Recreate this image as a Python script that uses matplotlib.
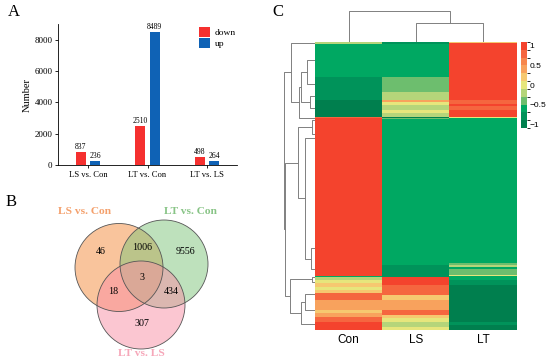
import numpy as np
import matplotlib
matplotlib.use('Agg')
import matplotlib.pyplot as plt
from matplotlib.colors import ListedColormap, BoundaryNorm
from matplotlib.patches import Circle

# ---- A : nombre de DEGs
groups = ['LS vs. Con', 'LT vs. Con', 'LT vs. LS']
down = [837, 2510, 498]
up = [236, 8489, 264]

# ---- B : venn
venn_names = ['LS vs. Con', 'LT vs. Con', 'LT vs. LS']
venn_regions = ['100', '110', '010', '111', '101', '011', '001']
venn_counts = [46, 1006, 9556, 3, 18, 434, 307]

# ---- C : heatmap (z-score par ligne), blocs de lignes
samples = ['Con', 'LS', 'LT']
row_counts = [1, 1, 33, 15, 8, 2, 2, 1, 1, 4, 3, 4, 1, 1, 144, 2, 2, 2, 6, 1,
              1, 3, 3, 2, 2, 3, 3, 2, 5, 10, 3, 2, 2, 1, 4, 3, 2, 3]
con_vals = [-0.2, -0.2, -0.6, -0.8, -0.8, -1, -1, -1, -1, -1, -1, -1, 0.8, 1, 1, 1, 1, 1, 1, 1,
            -0.6, -0.2, 0, 0.2, 0.2, 0, 0.2, 0.8, 0.8, 0.4, 0.2, 0.4, 0.4, 0.8, 0.8, 1, 1, 1]
ls_vals = [-0.8, -0.8, -0.6, -0.4, -0.2, 0.4, 0, 0, -0.2, -0.2, 0, -0.2, -1, -0.4, -0.6, -0.6, -0.8, -0.8, -0.8, -0.8,
           -0.8, 1, 1, 1, 0.8, 0.8, 0.8, 0.8, 0.2, 0.4, 0.8, 0.8, 0.2, 0.2, 0, -0.2, -0.2, 0]
lt_vals = [0.2, 1, 1, 1, 1, 0.8, 0.8, 1, 1, 0.8, 1, 1, 0, -0.6, -0.6, -0.4, -0.2, -0.6, -0.4, 0,
           -0.6, -0.6, -0.8, -0.8, -1, -1, -1, -1, -1, -1, -1, -1, -1, -1, -1, -0.8, -1, -1]

# dendrogramme des lignes : feuilles (position en lignes) + fusions (a, b, hauteur)
row_leaves = [0.5, 18, 42, 54, 66, 75.5, 77.5, 92, 96, 206, 227, 234.5, 240, 252, 268, 282]
row_links = [(1, 2, 8), (3, 4, 5), (16, 17, 14), (18, 5, 16), (0, 19, 24),
             (6, 7, 3), (9, 10, 4), (8, 22, 10), (21, 23, 17),
             (13, 14, 10), (25, 15, 14), (11, 12, 3), (27, 26, 25),
             (24, 28, 30), (20, 29, 31)]
col_leaves = [0, 1, 2]
col_links = [(1, 2, 19.3), (0, 3, 31)]

hm_colors = ['#007f4e', '#00935a', '#00a862', '#6dbe6e', '#b5d57a', '#e6e67c',
             '#f6c870', '#f8a25d', '#f7864c', '#f5663f', '#f4432d']

serif = 'Liberation Serif'
sans = 'Liberation Sans'

fig = plt.figure(figsize=(5.5, 3.63), dpi=100)
W, H = 550.0, 363.0


def px_axes(x0, y0, x1, y1):
    return fig.add_axes([x0 / W, 1 - y1 / H, (x1 - x0) / W, (y1 - y0) / H])


# ================= A
ax = px_axes(58, 24, 237, 165)
x = np.arange(len(groups))
ax.bar(x - 0.12, down, 0.17, color='#f5302f', label='down')
ax.bar(x + 0.12, up, 0.17, color='#0f62b5', label='up')
for i in range(len(groups)):
    ax.text(x[i] - 0.12, down[i] + 60, str(down[i]), ha='center', va='bottom', fontsize=5.5, family=serif)
    ax.text(x[i] + 0.12, up[i] + 60, str(up[i]), ha='center', va='bottom', fontsize=5.5, family=serif)
ax.set_xlim(-0.5, 2.5)
ax.set_ylim(0, 9000)
ax.set_yticks([0, 2000, 4000, 6000, 8000])
ax.set_xticks(x)
ax.set_xticklabels(groups)
for lab in ax.get_xticklabels() + ax.get_yticklabels():
    lab.set_family(serif)
ax.tick_params(axis='y', labelsize=6.5, length=2.5, width=0.6, pad=1.5)
ax.tick_params(axis='x', labelsize=6.2, length=2.5, width=0.6, pad=2)
ax.set_ylabel('Number', fontsize=7.5, family=serif, labelpad=2)
ax.spines['top'].set_visible(False)
ax.spines['right'].set_visible(False)
ax.spines['left'].set_linewidth(0.6)
ax.spines['bottom'].set_linewidth(0.6)
ax.legend(loc='upper left', bbox_to_anchor=(0.74, 1.04), frameon=False,
          prop={'family': serif, 'size': 6.8}, handlelength=1.2, handleheight=1.2,
          handletextpad=0.5, labelspacing=0.1)

# ================= B
axv = px_axes(0, 185, 275, 363)
axv.set_xlim(0, 275)
axv.set_ylim(363, 185)
axv.axis('off')
circ_xy = [(119, 267.5), (164, 264), (141, 305)]
circ_col = ['#f58a3a', '#7fc47a', '#f98ea5']
for (cx, cy), c in zip(circ_xy, circ_col):
    axv.add_patch(Circle((cx, cy), 44, facecolor=c, alpha=0.5, edgecolor='none'))
for (cx, cy) in circ_xy:
    axv.add_patch(Circle((cx, cy), 44, facecolor='none', edgecolor='#555555', lw=0.6))
txt_xy = {'100': (101, 252), '110': (142.5, 247), '010': (185, 252), '111': (142, 278),
          '101': (113, 292), '011': (171.5, 292), '001': (142, 323)}
for r, n in zip(venn_regions, venn_counts):
    axv.text(*txt_xy[r], str(n), ha='center', va='center', fontsize=7.2, family=serif)
name_xy = [(85, 212), (190, 212), (141, 354)]
name_col = ['#f4a06c', '#88c486', '#f6a7b9']
for (nx, ny), nm, c in zip(name_xy, venn_names, name_col):
    axv.text(nx, ny, nm, ha='center', va='center', fontsize=8.2, family=serif,
             fontweight='bold', color=c)

# ================= C
mat = np.column_stack([np.repeat(con_vals, row_counts),
                       np.repeat(ls_vals, row_counts),
                       np.repeat(lt_vals, row_counts)])
cmap = ListedColormap(hm_colors)
norm = BoundaryNorm(np.linspace(-1.1, 1.1, 12), cmap.N)

axh = px_axes(315, 42, 517, 330)
im = axh.imshow(mat, aspect='auto', cmap=cmap, norm=norm, interpolation='nearest')
axh.set_xticks(range(3))
axh.set_xticklabels(samples, fontsize=8.5, family=sans)
axh.set_yticks([])
axh.tick_params(axis='x', length=0, pad=3)
for s in axh.spines.values():
    s.set_visible(False)

cax = px_axes(521, 42, 527, 128)
cb = fig.colorbar(im, cax=cax, ticks=[-1, -0.5, 0, 0.5, 1])
cb.outline.set_visible(False)
cb.ax.set_yticklabels(['\u22121', '\u22120.5', '0', '0.5', '1'])
cb.ax.tick_params(length=0, labelsize=6, pad=2)
for lab in cb.ax.get_yticklabels():
    lab.set_family(sans)


def draw_tree(ax, leaves, links, side):
    pos = list(leaves)
    hgt = [0.0] * len(leaves)
    for a, b, h in links:
        p = [pos[a], pos[a], pos[b], pos[b]]
        q = [hgt[a], h, h, hgt[b]]
        if side == 'top':
            ax.plot(p, q, color='#808080', lw=0.7)
        else:
            ax.plot(q, p, color='#808080', lw=0.7)
        pos.append((pos[a] + pos[b]) / 2)
        hgt.append(h)


axr = px_axes(283, 42, 315, 330)
draw_tree(axr, row_leaves, row_links, 'left')
axr.set_xlim(32, 0)
axr.set_ylim(288, 0)
axr.axis('off')

axc = px_axes(315, 10, 517, 42)
draw_tree(axc, col_leaves, col_links, 'top')
axc.set_xlim(-0.5, 2.5)
axc.set_ylim(0, 32)
axc.axis('off')

fig.text(8 / W, 1 - 12 / H, 'A', fontsize=12, family=serif, va='center')
fig.text(6 / W, 1 - 202 / H, 'B', fontsize=12, family=serif, va='center')
fig.text(272 / W, 1 - 12 / H, 'C', fontsize=12, family=serif, va='center')

fig.savefig('out.png', dpi=100)
